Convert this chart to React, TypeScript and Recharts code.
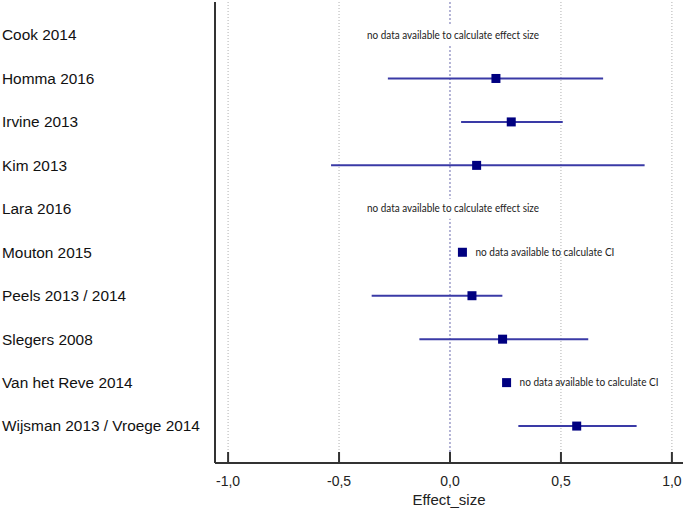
import React from 'react';
import { ComposedChart, Scatter, XAxis, YAxis, CartesianGrid, ErrorBar } from 'recharts';

// studies top to bottom
const studies = [
  'Cook 2014',
  'Homma 2016',
  'Irvine 2013',
  'Kim 2013',
  'Lara 2016',
  'Mouton 2015',
  'Peels 2013 / 2014',
  'Slegers 2008',
  'Van het Reve 2014',
  'Wijsman 2013 / Vroege 2014',
];
const effect = [null, 0.207, 0.276, 0.12, null, 0.056, 0.099, 0.237, 0.255, 0.571];
const ciLow = [null, -0.28, 0.05, -0.536, null, null, -0.353, -0.138, null, 0.308];
const ciHigh = [null, 0.69, 0.508, 0.877, null, null, 0.236, 0.623, null, 0.841];
const xTicks = [-1, -0.5, 0, 0.5, 1];
const gridValues = [-1, -0.5, 0.5, 1];
const nullValue = [0];

const NO_EFFECT = 'no data available to calculate effect size';
const NO_CI = 'no data available to calculate CI';

const rows = studies.map((name, i) => ({
  name,
  y: i + 1,
  x: effect[i],
  lo: ciLow[i],
  hi: ciHigh[i],
}));

const withCI = rows
  .filter(r => r.x != null && r.lo != null)
  .map(r => ({ x: r.x, y: r.y, err: [r.x - r.lo, r.hi - r.x] }));
const withoutCI = rows.filter(r => r.x != null && r.lo == null).map(r => ({ x: r.x, y: r.y }));
const effectNotes = rows.filter(r => r.x == null).map(r => ({ x: 0, y: r.y }));

const NAVY = '#000080';
const CI_BLUE = '#3a3aa6';
const noteFont = 'Lato, "Open Sans", sans-serif';
const axisFont = '"Liberation Sans", Arial, sans-serif';

const Square = ({ cx, cy }: any) => <rect x={cx - 4.5} y={cy - 4.5} width={9} height={9} fill={NAVY} />;

const SquareWithNote = ({ cx, cy }: any) => (
  <g>
    <rect x={cx - 4.5} y={cy - 4.5} width={9} height={9} fill={NAVY} />
    <text x={cx + 13} y={cy} dy="0.35em" fontSize={10.5} fill="#222" fontFamily={noteFont}
      textLength={139} lengthAdjust="spacingAndGlyphs">{NO_CI}</text>
  </g>
);

const EffectNote = ({ cx, cy }: any) => (
  <g>
    <rect x={cx + 3 - 88} y={cy - 10} width={176} height={20} fill="#fff" />
    <text x={cx + 3} y={cy} dy="0.35em" textAnchor="middle" fontSize={10.5} fill="#222" fontFamily={noteFont}
      textLength={172} lengthAdjust="spacingAndGlyphs">{NO_EFFECT}</text>
  </g>
);

const XTick = ({ x, y, payload }: any) => (
  <g>
    <line x1={x} x2={x} y1={y} y2={y - 11} stroke="#333" strokeWidth={2} />
    <text x={x} y={y + 23} textAnchor="middle" fontSize={14} fill="#222" fontFamily={axisFont}>
      {payload.value.toFixed(1).replace('.', ',')}
    </text>
  </g>
);

const YTick = ({ y, payload }: any) => (
  <text x={2} y={y} dy="0.35em" textAnchor="start" fontSize={15.4} fill="#111" fontFamily={axisFont}>
    {studies[payload.value - 1]}
  </text>
);

export default function App() {
  return (
    <div style={{ position: 'absolute', left: 0, top: 0, background: '#fff' }}>
      <ComposedChart width={685} height={511} margin={{ top: 2, right: 2, bottom: 0, left: 0 }}>
        <CartesianGrid horizontal={false} verticalValues={gridValues} stroke="#b0b0b0" strokeDasharray="1 2" />
        <CartesianGrid horizontal={false} verticalValues={nullValue} stroke="#6a6aae" strokeDasharray="2 2" />
        <XAxis
          type="number"
          dataKey="x"
          domain={[-1.059, 1.05]}
          ticks={xTicks}
          allowDataOverflow
          height={48}
          tickSize={0}
          tickMargin={0}
          tickLine={false}
          tick={<XTick />}
          axisLine={{ stroke: '#333', strokeWidth: 2 }}
          label={{ value: 'Effect_size', position: 'insideBottom', offset: 6, fontSize: 15, fill: '#222', fontFamily: axisFont }}
        />
        <YAxis
          type="number"
          dataKey="y"
          reversed
          domain={[0.24, 10.85]}
          ticks={studies.map((_, i) => i + 1)}
          interval={0}
          allowDataOverflow
          width={215}
          tickSize={0}
          tickMargin={0}
          tickLine={false}
          tick={<YTick />}
          axisLine={{ stroke: '#333', strokeWidth: 2 }}
        />
        <Scatter data={withCI} shape={<Square />} isAnimationActive={false}>
          <ErrorBar dataKey="err" direction="x" width={0} stroke={CI_BLUE} strokeWidth={2} isAnimationActive={false} />
        </Scatter>
        <Scatter data={withoutCI} shape={<SquareWithNote />} isAnimationActive={false} />
        <Scatter data={effectNotes} shape={<EffectNote />} isAnimationActive={false} />
      </ComposedChart>
    </div>
  );
}
